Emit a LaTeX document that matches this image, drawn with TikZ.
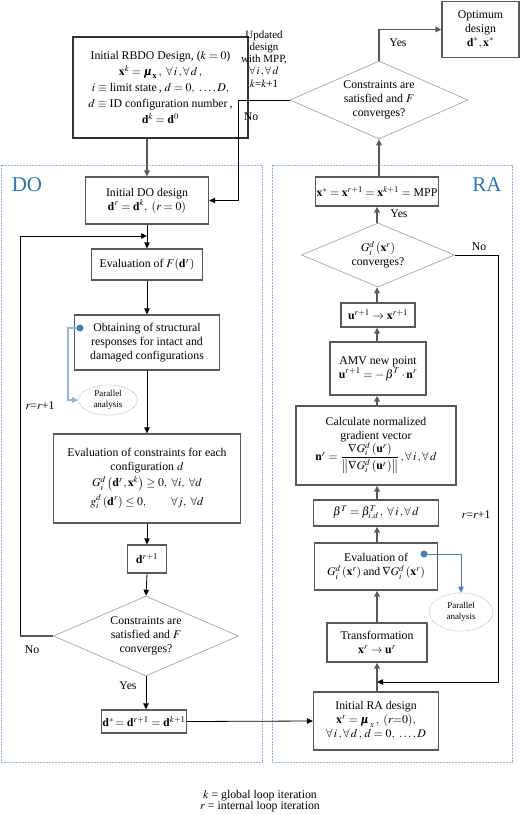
\documentclass[tikz,border=0pt]{standalone}
\usepackage{amsmath}
\usepackage{mathptmx}
\usepackage{bm}
\usepackage{fontspec}
\setmainfont{Liberation Serif}
\usetikzlibrary{shapes.geometric,arrows.meta}
\definecolor{pblue}{HTML}{8DB3E2}
\definecolor{lblue}{HTML}{2E74B5}
\definecolor{bline}{HTML}{4A7EBB}
\definecolor{bxc}{HTML}{595959}
\newcommand{\fs}{\fontsize{11.8}{14}\selectfont}
\newcommand{\fsmall}{\fontsize{9}{10.5}\selectfont}
\begin{document}
\begin{tikzpicture}[x=1pt,y=-1pt,
  box/.style={draw=bxc, line width=1.3pt, fill=white, align=center, inner sep=1pt, font=\fs},
  dia/.style={draw=gray!80, line width=0.6pt, shape=diamond, aspect=2.3, inner sep=-2pt, align=center, font=\fs},
  arr/.style={-{Triangle[length=6pt,width=5.5pt]}, line width=0.8pt, draw=black},
  garr/.style={-{Triangle[length=6pt,width=5.5pt]}, line width=1.4pt, draw=bxc},
  barr/.style={-{Triangle[length=6pt,width=5.5pt]}, line width=0.9pt, draw=bline},
  par/.style={shape=ellipse, draw=pblue, densely dotted, line width=0.7pt, align=center, inner sep=0pt, font=\fsmall},
  lbl/.style={align=center, inner sep=0pt, font=\fs},
  panel/.style={draw=pblue, dashed, dash pattern=on 2pt off 1pt, line width=1pt}
]
\useasboundingbox (0,0) rectangle (520,815);

% panels
\draw[panel] (1,165) rectangle (262,762);
\draw[panel] (272,165) rectangle (512,762);
\node[font=\fontsize{21}{22}\selectfont, text=lblue, inner sep=0pt] (dolbl) at (27,185) {DO};
\node[font=\fontsize{21}{22}\selectfont, text=lblue, inner sep=0pt] (ralbl) at (487,185) {RA};

% top
\node[box, draw=black!80, minimum width=175pt, minimum height=101pt] (rbdo) at (160.5,87.5)
 {Initial RBDO Design, ($k=0$)\\[2pt]
  $\mathbf{x}^k=\bm{\mu}_{\mathbf{x}}\,,\ \forall\, i\,,\forall\, d\,,$\\[2pt]
  $i\equiv$ limit state\,, $d=0,\ \ldots,D,$\\[2pt]
  $d\equiv$ ID configuration number\,,\\[2pt]
  $\mathbf{d}^k=\mathbf{d}^0$};
\node[box, minimum width=77pt, minimum height=56pt] (opt) at (480.5,29.5)
 {Optimum\\design\\$\mathbf{d}^*,\mathbf{x}^*$};
\node[dia, minimum width=178pt, minimum height=78pt] (topdia) at (379,100)
 {Constraints are\\satisfied and $F$\\converges?};
\node[lbl, font=\fontsize{11}{12.2}\selectfont] (updl) at (264,59) {Updated\\design\\with MPP,\\$\forall\, i\,,\forall\, d$\\$k$=$k$+1};
\node[lbl] (yestop) at (398,43) {Yes};
\node[lbl] (notop) at (251,117) {No};

% DO column
\node[box, minimum width=123pt, minimum height=47pt] (do1) at (147,200.5)
 {Initial DO design\\$\mathbf{d}^r=\mathbf{d}^k,\ (r=0)$};
\node[box, minimum width=111pt, minimum height=31pt] (evf) at (147,264.5)
 {Evaluation of $F(\mathbf{d}^r)$};
\node[box, minimum width=145pt, minimum height=55pt] (obt) at (147,342.5)
 {Obtaining of structural\\responses for intact and\\damaged configurations};
\node[par, minimum width=59pt, minimum height=30pt] (pa1) at (108,400) {Parallel\\analysis};
\node[lbl] (rr1) at (40,406) {$r$=$r$+1};
\node[box, minimum width=187pt, minimum height=89pt] (cons) at (147,478.5)
 {Evaluation of constraints for each\\configuration $d$\\[2pt]
  $G_i^d\left(\mathbf{d}^r,\mathbf{x}^k\right)\ge 0,\ \forall i,\ \forall d$\\[3pt]
  $g_i^d\left(\mathbf{d}^r\right)\le 0,\qquad \forall j,\ \forall d$};
\node[box, minimum width=39pt, minimum height=28pt] (dr1) at (147,559) {$\mathbf{d}^{r+1}$};
\node[dia, minimum width=185pt, minimum height=80pt] (dodia) at (146,636)
 {Constraints are\\satisfied and $F$\\converges?};
\node[lbl] (nodo) at (32,650) {No};
\node[lbl] (yesdo) at (128,686) {Yes};
\node[box, minimum width=82pt, minimum height=23pt] (dstar) at (144,721.5)
 {$\mathbf{d}^{*}\!=\mathbf{d}^{r+1}=\mathbf{d}^{k+1}$};

% RA column
\node[box, minimum width=113pt, minimum height=29pt] (ra1) at (377,191.5)
 {$\mathbf{x}^{*}=\mathbf{x}^{r+1}=\mathbf{x}^{k+1}=$ MPP};
\node[dia, minimum width=153pt, minimum height=64pt] (radia) at (378,255)
 {$G_i^d\left(\mathbf{x}^r\right)$\\converges?};
\node[lbl] (yesra) at (399,214) {Yes};
\node[lbl] (nora) at (479,247) {No};
\node[box, minimum width=74pt, minimum height=24pt] (ub) at (378,315)
 {$\mathbf{u}^{r+1}\rightarrow\mathbf{x}^{r+1}$};
\node[box, minimum width=96pt, minimum height=53pt] (amv) at (378,368.5)
 {AMV new point\\$\mathbf{u}^{r+1}=-\,\beta^T\cdot\mathbf{n}^r$};
\node[box, minimum width=160pt, minimum height=79pt] (calc) at (376,445.5)
 {Calculate normalized\\gradient vector\\[-1pt]
  $\mathbf{n}^r=\dfrac{\nabla G_i^d\left(\mathbf{u}^r\right)}{\left\|\nabla G_i^d\left(\mathbf{u}^r\right)\right\|}\,,\forall\, i\,,\forall\, d$};
\node[box, minimum width=125pt, minimum height=26pt] (beta) at (376,513)
 {$\beta^T=\beta^T_{i,d}\,,\ \forall\, i\,,\forall\, d$};
\node[lbl] (rr2) at (476,515) {$r$=$r$+1};
\node[box, minimum width=123pt, minimum height=47pt] (evg) at (376,566.5)
 {Evaluation of\\$G_i^d\left(\mathbf{x}^r\right)$\,and\,$\nabla G_i^d\left(\mathbf{x}^r\right)$};
\node[par, minimum width=64pt, minimum height=38pt] (pa2) at (461,612) {Parallel\\analysis};
\node[box, minimum width=100pt, minimum height=39pt] (trans) at (377,642.5)
 {Transformation\\$\mathbf{x}^r\rightarrow\mathbf{u}^r$};
\node[box, minimum width=125pt, minimum height=58pt] (initra) at (376,721)
 {Initial RA design\\$\mathbf{x}^r=\bm{\mu}_{\,x}\,,\ (r{=}0),$\\$\forall\, i\,,\forall\, d\,,\,d=0,\ \ldots,D$};

% footnote
\node[lbl] (foot) at (260,801) {$k$ = global loop iteration\\[-3pt]$r$ = internal loop iteration};

% coordinates
\coordinate (noT) at (238,100);
\coordinate (loopL) at (20,636);
\coordinate (loopT) at (20,236);
\coordinate (loopJ) at (147,236);
\coordinate (noR) at (498,682);
\coordinate (joinR) at (377,682);
\coordinate (dot1) at (80,328);
\coordinate (bl1) at (68,328);
\coordinate (bl2) at (68,400);
\coordinate (dot2) at (424,554);

% connectors top
\draw[garr] (rbdo.south -| do1.north) -- (do1.north);
\draw[garr] (ra1.north -| topdia.south) -- (topdia.south);
\draw[garr] (topdia.north) |- (opt.west);
\draw[arr] (topdia.west) -- (noT) |- (do1.east);

% DO connectors
\draw[arr] (do1.south) -- (evf.north);
\draw[arr] (loopL) -- (loopT) -- (loopJ);
\draw[line width=1.2pt, draw=bxc] (dodia.west) -- (loopL);
\draw[arr] (evf.south) -- (obt.north);
\draw[arr] (obt.south) -- (cons.north);
\draw[arr] (cons.south) -- (dr1.north);
\draw[arr] (dr1.south) -- (dodia.north);
\draw[arr] (dodia.south) -- (dodia.south |- dstar.north);
\draw[arr] (dstar.east) -- (initra.west);
\draw[barr, line width=1.5pt, draw=bline!60] (dot1) -- (bl1) -- (bl2) -- (pa1.west);
\fill[bline] (dot1) circle (3.5pt);

% RA connectors
\draw[garr] (initra.north -| joinR) -- (trans.south -| joinR);
\draw[arr] (radia.east) -| (noR) -- (joinR);
\draw[garr] (trans.north) -- (trans.north |- evg.south);
\draw[garr] (evg.north -| trans.north) -- (beta.south -| trans.north);
\draw[garr] (beta.north -| trans.north) -- (calc.south -| trans.north);
\draw[garr] (calc.north -| trans.north) -- (amv.south -| trans.north);
\draw[garr] (amv.north -| trans.north) -- (ub.south -| trans.north);
\draw[garr] (ub.north -| trans.north) -- (radia.south -| trans.north);
\draw[garr] (radia.north -| trans.north) -- (ra1.south -| trans.north);
\draw[barr] (dot2) -| (pa2.north);
\fill[bline] (dot2) circle (3.5pt);
\end{tikzpicture}
\end{document}
